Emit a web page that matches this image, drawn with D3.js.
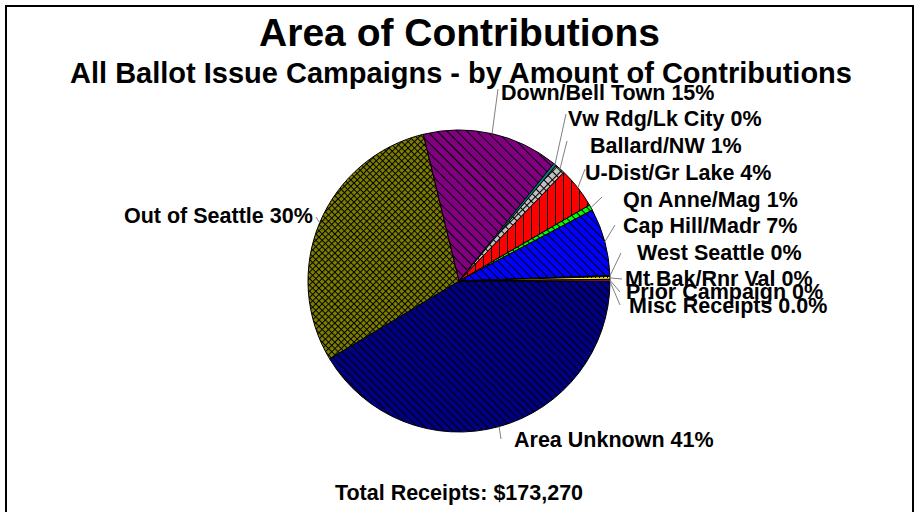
<!DOCTYPE html>
<html><head><meta charset="utf-8">
<script src="https://cdn.jsdelivr.net/npm/d3@7"></script>
<style>
html,body{margin:0;padding:0;background:#fff;}
text{font-family:"Liberation Sans",Arial,sans-serif;font-weight:bold;fill:#000;}
</style></head>
<body><svg id="c" width="915" height="512"></svg>
<script>
// ---- data ----
const categories = ["Area Unknown","Out of Seattle","Down/Bell Town","Vw Rdg/Lk City","Ballard/NW","U-Dist/Gr Lake","Qn Anne/Mag","Cap Hill/Madr","West Seattle","Mt Bak/Rnr Val","Prior Campaign","Misc Receipts"];
const shares = [41.3, 29.8, 14.6, 0.3, 1.1, 4.4, 0.6, 7.2, 0.1, 0.3, 0.2, 0.04];
const pctDecimals = [0,0,0,0,0,0,0,0,0,0,0,1];
const title = "Area of Contributions";
const subtitle = "All Ballot Issue Campaigns - by Amount of Contributions";
const footer = "Total Receipts: $173,270";

// ---- styles ----
const fills = ["#000080","#808000","#800080","#008080","#c0c0c0","#ff0000","#00ff00","#0000ff","#800000","#ffff00","#ff00ff","#00ffff"];
const patterns = ["diag","cross","diag7","none","cross6","vert","diag","diag6","none","dots","dash","none"];
// label layout: [labelX, labelY(baseline), leaderEndX, leaderEndY]
const labelLayout = [
  [514,447,501,439],
  [124,223,316,217],
  [501,100,498,89],
  [568,126,566,114],
  [590,153,567,141],
  [585,180,585,169],
  [623,206.5,602,197],
  [623,233,615,225],
  [637,259.5,621,253],
  [625,286,622,279],
  [626,299,620,292],
  [629,313,620,305]
];

const svg = d3.select("#c");
const defs = svg.append("defs");
const cx = 459, cy = 281, R = 151;

function mkPattern(id, bg, kind){
  let size=6, rot=0, draw;
  const p = defs.append("pattern").attr("id",id).attr("patternUnits","userSpaceOnUse");
  if(kind==="diag"||kind==="diag6"||kind==="diag7"){
    size = kind==="diag"?5.5:(kind==="diag6"?6:7); rot=45;
    draw = g=>{g.append("line").attr("x1",0).attr("y1",0.5).attr("x2",size).attr("y2",0.5).attr("stroke","#000").attr("stroke-width",1);};
  } else if(kind==="cross"||kind==="cross6"){
    size = kind==="cross"?4.5:6; rot=45;
    draw = g=>{g.append("line").attr("x1",0).attr("y1",0.5).attr("x2",size).attr("y2",0.5).attr("stroke","#000").attr("stroke-width",1);
               g.append("line").attr("x1",0.5).attr("y1",0).attr("x2",0.5).attr("y2",size).attr("stroke","#000").attr("stroke-width",1);};
  } else if(kind==="vert"){
    size=8;
    draw = g=>{g.append("line").attr("x1",0.5).attr("y1",0).attr("x2",0.5).attr("y2",size).attr("stroke","#000").attr("stroke-width",1);};
  } else if(kind==="dots"){
    size=4;
    draw = g=>{g.append("rect").attr("x",0).attr("y",0).attr("width",1).attr("height",1).attr("fill","#000");};
  } else if(kind==="dash"){
    size=6;
    draw = g=>{g.append("line").attr("x1",0).attr("y1",0.5).attr("x2",3).attr("y2",0.5).attr("stroke","#000").attr("stroke-width",1);};
  } else { draw = ()=>{}; }
  p.attr("width",size).attr("height",size);
  if(rot) p.attr("patternTransform",`rotate(${rot})`);
  p.append("rect").attr("width",size).attr("height",size).attr("fill",bg);
  draw(p);
}
fills.forEach((f,i)=>mkPattern("p"+i,f,patterns[i]));

// frame
svg.append("rect").attr("x",6).attr("y",6).attr("width",907).attr("height",600)
  .attr("fill","none").attr("stroke","#000").attr("stroke-width",2);

// titles
svg.append("text").attr("x",459.5).attr("y",46).attr("text-anchor","middle").style("font-size","39px").text(title);
svg.append("text").attr("x",461).attr("y",83).attr("text-anchor","middle").style("font-size","29px").text(subtitle);

// pie
const data = categories.map((c,i)=>({name:c, value:shares[i], i}));
const startA = Math.PI/2 + 0.004;
const pie = d3.pie().value(d=>d.value).sort(null).startAngle(startA).endAngle(startA+2*Math.PI);
const arcs = pie(data);
const arc = d3.arc().innerRadius(0).outerRadius(R);
const g = svg.append("g").attr("transform",`translate(${cx},${cy})`);
g.selectAll("path").data(arcs).join("path")
  .attr("d",arc).attr("fill",d=>`url(#p${d.data.i})`)
  .attr("stroke","#000").attr("stroke-width",1).attr("stroke-linejoin","round");

// leader lines & labels
const total = d3.sum(shares);
arcs.forEach(a=>{
  const i=a.data.i, L=labelLayout[i];
  const m=(a.startAngle+a.endAngle)/2;
  const sx=cx+R*Math.sin(m), sy=cy-R*Math.cos(m);
  svg.append("line").attr("x1",sx).attr("y1",sy).attr("x2",L[2]).attr("y2",L[3])
    .attr("stroke","#808080").attr("stroke-width",1);
  const pct = d3.format(`.${pctDecimals[i]}%`)(a.data.value/total);
  svg.append("text").attr("x",L[0]).attr("y",L[1]).style("font-size","21.5px").text(`${a.data.name} ${pct}`);
});

svg.append("text").attr("x",459).attr("y",500).attr("text-anchor","middle").style("font-size","21.5px").text(footer);
</script></body></html>
